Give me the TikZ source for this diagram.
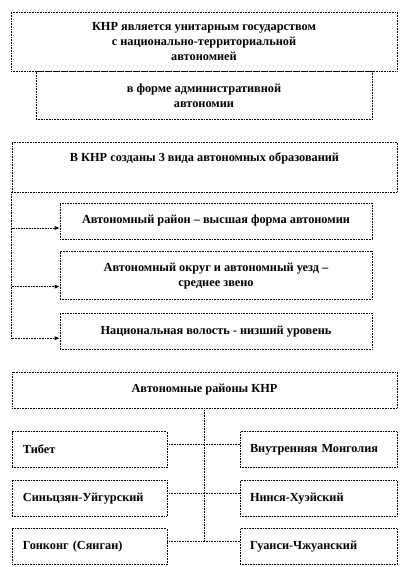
\documentclass[tikz,border=0pt]{standalone}
\usepackage{fontspec}
\setmainfont{Liberation Serif}
\usetikzlibrary{arrows.meta,positioning}

\begin{document}
\begin{tikzpicture}[x=1pt, y=-1pt, node distance={12pt},
    box/.style = {draw, densely dotted, line width=0.6pt, align=center, inner sep=3pt,
                  font=\bfseries\fontsize{12.3}{15}\selectfont},
    level/.style = {box, minimum width=312pt},
    cell/.style = {box, minimum height=36pt, align=left},
    link/.style = {densely dotted, line width=0.6pt}]
    \useasboundingbox (0,0) rectangle (408,567);

    % unitary state
    \node[box, minimum width=386pt, minimum height=59pt] (state) at (204,41.5)
        {КНР является унитарным государством\\с национально-территориальной\\автономией};
    \node[box, minimum width=336pt, minimum height=48pt] (admin) [below=0pt of state]
        {в форме административной\\автономии};

    % three kinds
    \node[box, minimum width=385pt, text height=16pt, text depth=28pt] (kinds) at (204.5,167)
        {В КНР созданы 3 вида автономных образований};
    \node[level, minimum height=36pt] (high) at (216,221) {Автономный район -- высшая форма автономии};
    \node[level, minimum height=48pt] (middle) [below=of high] {Автономный округ и автономный уезд --\\среднее звено};
    \node[level, minimum height=36pt] (low) [below=13pt of middle] {Национальная волость - низший уровень};

    \draw[link, -{Latex[length=5pt, width=4pt]}] (kinds.south west) |- ([yshift=-7pt]high.west);
    \draw[link, -{Latex[length=5pt, width=4pt]}] (kinds.south west) |- ([yshift=-11pt]middle.west);
    \draw[link, -{Latex[length=5pt, width=4pt]}] (kinds.south west) |- ([yshift=-7pt]low.west);

    % autonomous regions
    \node[box, minimum width=385pt, minimum height=36pt] (regions) at (204.5,390) {Автономные районы КНР};
    \node[cell, text width=133pt, inner xsep=11pt] (tibet) at (89.5,449.5) {Тибет};
    \node[cell, text width=133pt, inner xsep=11pt] (xinjiang) [below=of tibet] {Синьцзян-Уйгурский};
    \node[cell, text width=133pt, inner xsep=11pt] (hongkong) [below=of xinjiang] {Гонконг (Сянган)};
    \node[cell, text width=137pt, inner xsep=10pt] (mongolia) at (318.5,449.5) {Внутренняя Монголия};
    \node[cell, text width=137pt, inner xsep=10pt] (ningxia) [below=of mongolia] {Нинся-Хуэйский};
    \node[cell, text width=137pt, inner xsep=10pt] (guangxi) [below=of ningxia] {Гуанси-Чжуанский};

    \draw[link] (regions.south) -- ([yshift=5pt]regions.south |- hongkong.east);
    \draw[link] ([yshift=5pt]tibet.east) -- ([yshift=5pt]mongolia.west);
    \draw[link] ([yshift=5pt]xinjiang.east) -- ([yshift=5pt]ningxia.west);
    \draw[link] ([yshift=5pt]hongkong.east) -- ([yshift=5pt]guangxi.west);
\end{tikzpicture}
\end{document}
